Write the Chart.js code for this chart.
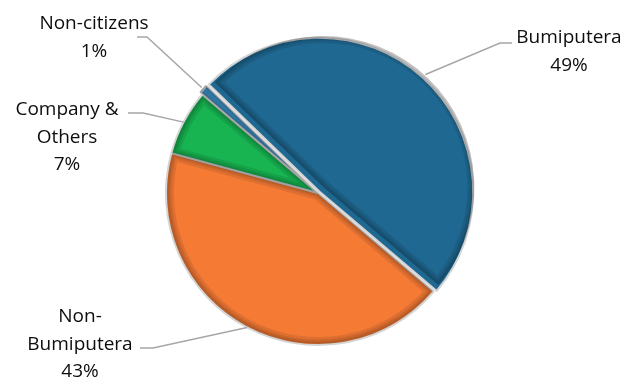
<!DOCTYPE html>
<html>
<head>
<meta charset="utf-8">
<script src="https://cdn.jsdelivr.net/npm/chart.js@4/dist/chart.umd.min.js"></script>
<style>
  html, body { margin: 0; padding: 0; background: #ffffff; }
  #wrap { width: 626px; height: 378px; }
</style>
</head>
<body>
<div id="wrap"><canvas id="pemegangSaham" width="626" height="378"></canvas></div>
<script>
// Data pie (urutan searah jarum jam dari atas-kiri)
const categories = ['Bumiputera', 'Non-Bumiputera', 'Company & Others', 'Non-citizens'];
const shares = [49, 43, 7, 1];
// Baris label kategori (dipecah seperti di gambar)
const categoryLines = [['Bumiputera'], ['Non-', 'Bumiputera'], ['Company &', 'Others'], ['Non-citizens']];

// Warna & gaya
const sliceColors = ['#1f6891', '#f57b35', '#18b452', '#3b8fc6'];
const sliceOffsets = [8, 0, 0, 5];

// Posisi label (teks tengah, baseline baris pertama, siku garis, ujung garis horizontal)
const labelLayout = [
  { tx: 569, ty: 43, ex: 500, ey: 43, hx: 512 },
  { tx: 80, ty: 322, ex: 153, ey: 348, hx: 140 },
  { tx: 67, ty: 115, ex: 143, ey: 113, hx: 128 },
  { tx: 94, ty: 29, ex: 147, ey: 37, hx: 137 },
];

// Efek bayangan dalam supaya slice terlihat timbul
const bevelPlugin = {
  id: 'bevel',
  afterDatasetDraw(chart, args) {
    const ctx = chart.ctx;
    args.meta.data.forEach((arc) => {
      const off = arc.options.offset || 0;
      const mid = (arc.startAngle + arc.endAngle) / 2;
      const cx = arc.x + Math.cos(mid) * off;
      const cy = arc.y + Math.sin(mid) * off;
      const r = arc.outerRadius - 1;
      ctx.save();
      ctx.beginPath();
      ctx.moveTo(cx, cy);
      ctx.arc(cx, cy, r, arc.startAngle, arc.endAngle);
      ctx.closePath();
      ctx.clip();
      [14, 9, 5].forEach((w) => {
        ctx.beginPath();
        ctx.moveTo(cx, cy);
        ctx.arc(cx, cy, r, arc.startAngle, arc.endAngle);
        ctx.closePath();
        ctx.lineWidth = w;
        ctx.lineJoin = 'round';
        ctx.strokeStyle = 'rgba(0,0,0,0.09)';
        ctx.stroke();
      });
      ctx.restore();
    });
  },
};

// Label luar dengan garis penunjuk
const leaderLabelPlugin = {
  id: 'leaderLabels',
  afterDraw(chart) {
    const ctx = chart.ctx;
    const arcs = chart.getDatasetMeta(0).data;
    arcs.forEach((arc, i) => {
      const lay = labelLayout[i];
      const off = arc.options.offset || 0;
      const mid = (arc.startAngle + arc.endAngle) / 2;
      const px = arc.x + Math.cos(mid) * (arc.outerRadius + off);
      const py = arc.y + Math.sin(mid) * (arc.outerRadius + off);

      ctx.save();
      ctx.strokeStyle = '#a6a6a6';
      ctx.lineWidth = 1.5;
      ctx.beginPath();
      ctx.moveTo(px, py);
      ctx.lineTo(lay.ex, lay.ey);
      ctx.lineTo(lay.hx, lay.ey);
      ctx.stroke();

      const lines = categoryLines[i].concat([shares[i] + '%']);
      ctx.fillStyle = '#0d0d0d';
      ctx.font = '19px "Open Sans", sans-serif';
      ctx.textAlign = 'center';
      ctx.textBaseline = 'alphabetic';
      lines.forEach((t, k) => ctx.fillText(t, lay.tx, lay.ty + k * 27.5));
      ctx.restore();
    });
  },
};

const ctx = document.getElementById('pemegangSaham').getContext('2d');
new Chart(ctx, {
  type: 'pie',
  data: {
    labels: categories,
    datasets: [
      {
        data: shares,
        backgroundColor: sliceColors,
        borderColor: '#d4d4d4',
        borderWidth: 2,
        offset: sliceOffsets,
      },
    ],
  },
  options: {
    responsive: false,
    animation: false,
    rotation: -46,
    radius: 152,
    layout: { padding: { left: 10, right: 0, top: 8, bottom: 0 } },
    plugins: {
      legend: { display: false },
      tooltip: { enabled: false },
    },
  },
  plugins: [bevelPlugin, leaderLabelPlugin],
});
</script>
</body>
</html>
